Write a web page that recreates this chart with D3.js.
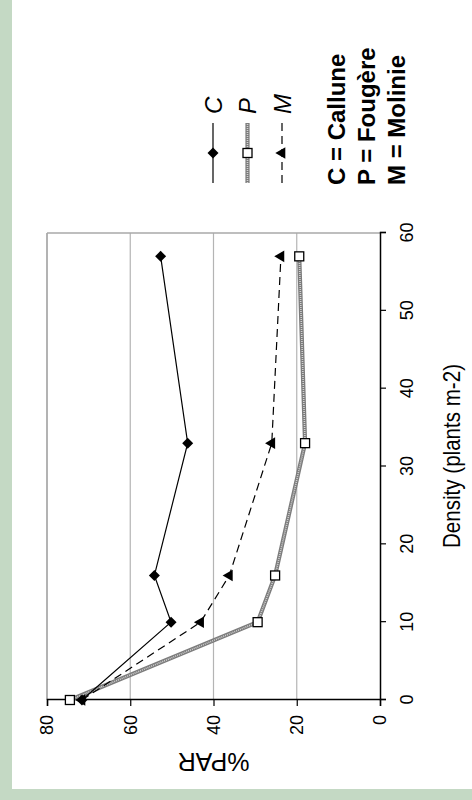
<!DOCTYPE html>
<html>
<head>
<meta charset="utf-8">
<script src="https://unpkg.com/d3@7/dist/d3.min.js"></script>
<style>
  body { margin: 0; background: #c4d9c4; }
  text { font-family: "Liberation Sans", Arial, sans-serif; }
</style>
</head>
<body>
<div class="chart"></div>
<script>
// values
const density = [0, 10, 16, 33, 57];
const parC = [71.6, 50.2, 54.2, 46.2, 52.7];
const parP = [74.5, 29.4, 25.2, 18.0, 19.4];
const parM = [71.6, 43.1, 36.2, 26.0, 23.8];
const seriesNames = ["C", "P", "M"];
const legendNotes = ["C = Callune", "P = Fougère", "M = Molinie"];
const xTicks = [0, 10, 20, 30, 40, 50, 60];
const yTicks = [0, 20, 40, 60, 80];

const series = [
    {name: "P", values: parP},
    {name: "M", values: parM},
    {name: "C", values: parC}
]

const W = 472, H = 800
// the chart is drawn in its own frame, then turned a quarter to the left
const width = 467, height = 333

const svg = d3.select(".chart").append("svg")
    .attr("width", W)
    .attr("height", H)

svg.append("rect")
    .attr("width", W).attr("height", H)
    .attr("fill", "#c4d9c4")
svg.append("rect")
    .attr("x", 12).attr("y", 0)
    .attr("width", W - 12).attr("height", 789)
    .attr("fill", "#fff")

const g = svg.append("g")
    .attr("transform", "translate(47,700) rotate(-90)")

const xScale = d3.scaleLinear().domain([0, 60]).range([0, width])
const yScale = d3.scaleLinear().domain([0, 80]).range([height, 0])

// grid + frame
g.selectAll(".grid")
    .data(yTicks.filter(d => d > 0))
    .enter().append("line")
    .attr("x1", 0).attr("x2", width)
    .attr("y1", d => yScale(d)).attr("y2", d => yScale(d))
    .attr("stroke", "#b4b4b4").attr("stroke-width", 1.2)
g.append("line")
    .attr("x1", width).attr("x2", width)
    .attr("y1", 0).attr("y2", height)
    .attr("stroke", "#a8a8a8").attr("stroke-width", 1.5)
g.append("line")
    .attr("x1", 0).attr("x2", width)
    .attr("y1", 0).attr("y2", 0)
    .attr("stroke", "#a8a8a8").attr("stroke-width", 1.5)

const xAxis = d3.axisBottom(xScale).tickValues(xTicks).tickSize(6).tickPadding(14)
const yAxis = d3.axisLeft(yScale).tickValues(yTicks).tickSize(6).tickPadding(9)

const gx = g.append("g")
    .attr("transform", `translate(0,${height})`)
    .call(xAxis)
const gy = g.append("g").call(yAxis)

for (const ax of [gx, gy]) {
    ax.select(".domain").attr("stroke", "#000").attr("stroke-width", 1.5)
    ax.selectAll(".tick line").attr("stroke", "#000").attr("stroke-width", 1.2)
    ax.selectAll(".tick text")
        .attr("font-size", 18)
        .attr("font-family", "Liberation Sans, Arial, sans-serif")
        .attr("fill", "#000")
}

g.append("text")
    .attr("x", 244)
    .attr("y", 413)
    .attr("text-anchor", "middle")
    .attr("font-size", 24)
    .attr("textLength", 184)
    .attr("lengthAdjust", "spacingAndGlyphs")
    .text("Density (plants m-2)")

g.append("text")
    .attr("transform", "rotate(-90)")
    .attr("x", -height / 2)
    .attr("y", -53)
    .attr("text-anchor", "middle")
    .attr("font-size", 25)
    .text("%PAR")

// lines
const line = d3.line()
    .x((d, i) => xScale(density[i]))
    .y(d => yScale(d))

const styleLine = (sel, name) => {
    if (name == "C") {
        sel.attr("stroke", "#000").attr("stroke-width", 1.2).attr("fill", "none")
    } else if (name == "M") {
        sel.attr("stroke", "#000").attr("stroke-width", 1.2).attr("fill", "none")
            .attr("stroke-dasharray", "8 5")
    }
}

const diamond = r => `M0,${-r}L${r},0L0,${r}L${-r},0Z`

const drawMarker = (sel, name) => {
    if (name == "C") {
        sel.append("path").attr("d", diamond(5.5)).attr("fill", "#000")
    } else if (name == "P") {
        sel.append("rect")
            .attr("x", -4.5).attr("y", -4.5)
            .attr("width", 9).attr("height", 9)
            .attr("fill", "#fff").attr("stroke", "#000").attr("stroke-width", 1.3)
    } else {
        sel.append("path")
            .attr("d", d3.symbol(d3.symbolTriangle, 58)())
            .attr("fill", "#000")
    }
}

const drawPath = (parent, name, d) => {
    if (name == "P") {
        parent.append("path").attr("d", d)
            .attr("fill", "none").attr("stroke", "#7c7c7c").attr("stroke-width", 4.2)
        parent.append("path").attr("d", d)
            .attr("fill", "none").attr("stroke", "#d2d2d2").attr("stroke-width", 1.6)
            .attr("stroke-dasharray", "1 1")
    } else {
        parent.append("path").attr("d", d).call(styleLine, name)
    }
}

series.forEach(s => drawPath(g, s.name, line(s.values)))

series.forEach(s => {
    g.selectAll(null)
        .data(s.values)
        .enter().append("g")
        .attr("transform", (d, i) => `translate(${xScale(density[i])},${yScale(d)})`)
        .each(function() { drawMarker(d3.select(this), s.name) })
})

// legend, same turned frame
const legend = g.append("g")

seriesNames.forEach((name, i) => {
    const v = 166 + i * 34.5
    drawPath(legend, name, `M517,${v}L577,${v}`)
    const m = legend.append("g").attr("transform", `translate(547,${v})`)
    drawMarker(m, name)
    legend.append("text")
        .attr("x", 586)
        .attr("y", v)
        .attr("dy", "0.36em")
        .attr("font-size", 24)
        .attr("font-style", "italic")
        .text(name)
})

legend.selectAll(".note")
    .data(legendNotes)
    .enter().append("text")
    .attr("x", 515)
    .attr("y", (d, i) => 298 + i * 30)
    .attr("font-size", 24)
    .attr("font-weight", "bold")
    .text(d => d)
</script>
</body>
</html>
